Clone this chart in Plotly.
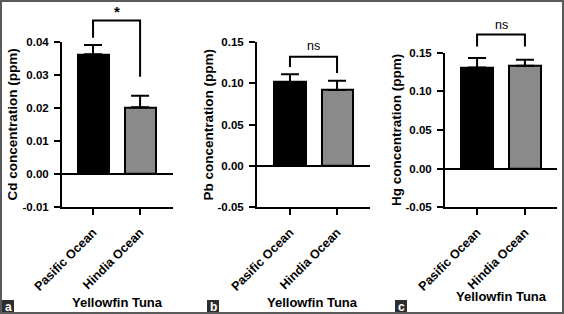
import plotly.graph_objects as go

W, H = 564, 314

categories = ["Pasific Ocean", "Hindia Ocean"]
metals = ["Cd", "Pb", "Hg"]
cd_values = [0.0362, 0.0202]
cd_errors = [0.0028, 0.0035]
pb_values = [0.1014, 0.0918]
pb_errors = [0.0093, 0.0110]
hg_values = [0.131, 0.133]
hg_errors = [0.012, 0.008]
sig_labels = ["*", "ns", "ns"]
panel_letters = ["a", "b", "c"]
cd_ticks = [-0.01, 0.00, 0.01, 0.02, 0.03, 0.04]
pbhg_ticks = [-0.05, 0.00, 0.05, 0.10, 0.15]

values = [cd_values, pb_values, hg_values]
errors = [cd_errors, pb_errors, hg_errors]
tickvals = [cd_ticks, pbhg_ticks, pbhg_ticks]

FONT = "Liberation Sans, Arial, Helvetica, sans-serif"

def px_x(p):
    return p / W

def px_y(p):
    return 1 - p / H

def bold(s):
    return f"<b>{s}</b>"

panels = [
    dict(x0=62, x1=173, ytop=41.7, ybot=207.3, xr=[-0.66, 1.70], yr=[-0.01, 0.04],
         ytitle_x=12,
         br=dict(top=0.0464, left=0.0412, right=0.0294), sig_y=0.0490, sig_size=15),
    dict(x0=257, x1=370, ytop=41.7, ybot=207.3, xr=[-0.70, 1.70], yr=[-0.05, 0.15],
         ytitle_x=208,
         br=dict(top=0.1317, left=0.1195, right=0.1122), sig_y=0.1450, sig_size=12.5),
    dict(x0=445, x1=557, ytop=52.7, ybot=207.3, xr=[-0.67, 1.67], yr=[-0.05, 0.15],
         ytitle_x=396,
         br=dict(top=0.1737, left=0.1579, right=0.1579), sig_y=0.1860, sig_size=12.5),
]
xtitle_pos = [(117, 302), (312, 302), (501, 296)]
letter_boxes = [(2, 300), (207, 300), (395, 300)]

fig = go.Figure()
shapes = []
annotations = []

for i, p in enumerate(panels):
    ax = "" if i == 0 else str(i + 1)
    xa, ya = "x" + ax, "y" + ax
    fig.add_trace(go.Bar(
        x=[0, 1], y=values[i], width=0.66,
        marker=dict(color=["#000000", "#8a8a8a"], line=dict(color="#000000", width=2)),
        error_y=dict(type="data", symmetric=False, array=errors[i], arrayminus=[0, 0],
                     color="#000000", thickness=2, width=9),
        xaxis=xa, yaxis=ya, showlegend=False, hoverinfo="skip",
    ))
    axis_common = dict(showline=True, linecolor="#000000", linewidth=2,
                       ticks="outside", tickcolor="#000000", tickwidth=2, ticklen=6,
                       showgrid=False, automargin=False, fixedrange=True)
    fig.update_layout(**{
        "xaxis" + ax: dict(domain=[px_x(p["x0"]), px_x(p["x1"])], range=p["xr"],
                           tickvals=[0, 1], ticktext=[bold(c) for c in categories], tickangle=-45,
                           zeroline=False, anchor=ya, ticklabelstandoff=5,
                           tickfont=dict(family=FONT, size=12.5, color="#000000"),
                           **axis_common),
        "yaxis" + ax: dict(domain=[px_y(p["ybot"]), px_y(p["ytop"])], range=p["yr"],
                           tickvals=tickvals[i], ticktext=[bold(f"{v:.2f}") for v in tickvals[i]],
                           zeroline=True, zerolinecolor="#000000", zerolinewidth=2,
                           anchor=xa, ticklabelstandoff=3,
                           tickfont=dict(family=FONT, size=11.5, color="#000000"),
                           **axis_common),
    })
    lo, hi = p["yr"]
    f = lambda v: (v - lo) / (hi - lo)
    b = p["br"]
    shapes.append(dict(
        type="path", xref=xa, yref=ya + " domain",
        path=f"M 0,{f(b['left'])} L 0,{f(b['top'])} L 1,{f(b['top'])} L 1,{f(b['right'])}",
        line=dict(color="#000000", width=2),
    ))
    annotations.append(dict(
        x=0.5, y=f(p["sig_y"]), xref=xa, yref=ya + " domain",
        text=bold(sig_labels[i]) if sig_labels[i] == "*" else sig_labels[i],
        showarrow=False, font=dict(family=FONT, size=p["sig_size"], color="#000000"),
        xanchor="center", yanchor="middle",
    ))
    annotations.append(dict(
        x=px_x(p["ytitle_x"]), y=px_y((p["ytop"] + p["ybot"]) / 2), xref="paper", yref="paper",
        text=bold(f"{metals[i]} concentration (ppm)"), textangle=-90, showarrow=False,
        font=dict(family=FONT, size=13.5, color="#000000"),
        xanchor="center", yanchor="middle",
    ))
    tx, ty = xtitle_pos[i]
    annotations.append(dict(
        x=px_x(tx), y=px_y(ty), xref="paper", yref="paper", text=bold("Yellowfin Tuna"),
        showarrow=False, font=dict(family=FONT, size=13, color="#000000"),
        xanchor="center", yanchor="middle",
    ))
    lx, ly = letter_boxes[i]
    shapes.append(dict(type="rect", xref="paper", yref="paper",
                       x0=px_x(lx), x1=px_x(lx + 12), y0=px_y(ly + 13), y1=px_y(ly),
                       fillcolor="#2e2e2e", line=dict(width=0)))
    annotations.append(dict(
        x=px_x(lx + 6), y=px_y(ly + 6.5), xref="paper", yref="paper", text=bold(panel_letters[i]),
        showarrow=False, font=dict(family=FONT, size=12, color="#ffffff"),
        xanchor="center", yanchor="middle",
    ))

shapes.append(dict(type="rect", xref="paper", yref="paper", x0=0, x1=1, y0=0, y1=1,
                   line=dict(color="#5a5a5a", width=4), layer="above"))

fig.update_layout(
    width=W, height=H, margin=dict(l=0, r=0, t=0, b=0, autoexpand=False),
    paper_bgcolor="#ffffff", plot_bgcolor="rgba(0,0,0,0)",
    shapes=shapes, annotations=annotations, bargap=0,
)

fig.write_html("out.html", config={"displayModeBar": False},
               post_script="document.body.style.margin='0';document.body.style.overflow='hidden';")
